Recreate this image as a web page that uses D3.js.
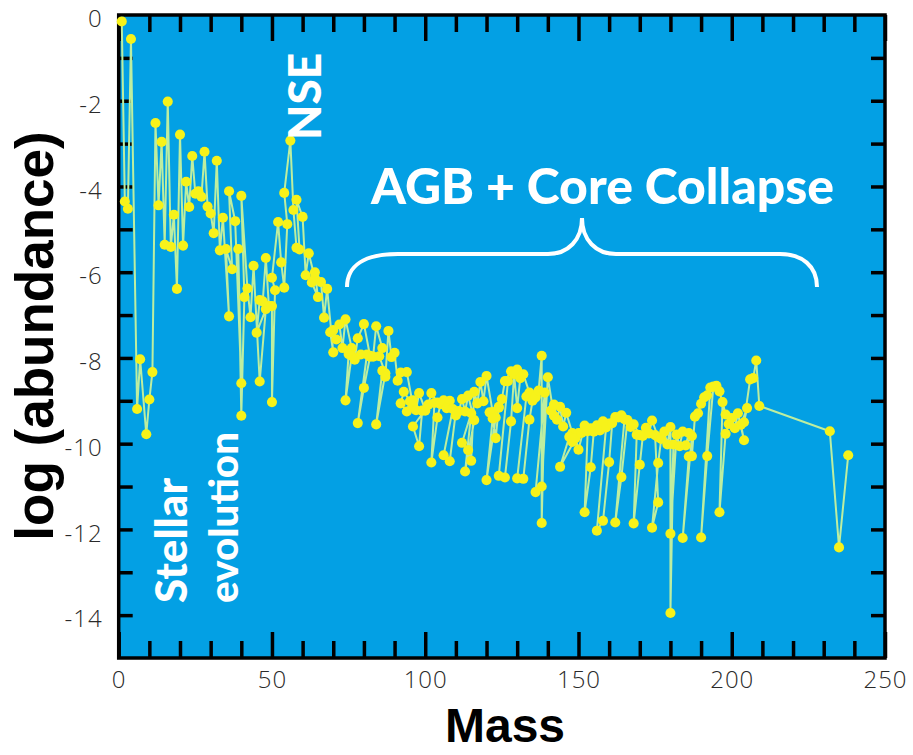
<!DOCTYPE html>
<html>
<head>
<meta charset="utf-8">
<script src="https://cdn.jsdelivr.net/npm/d3@7"></script>
<style>
  html, body { margin: 0; padding: 0; background: #ffffff; }
  svg { display: block; }
</style>
</head>
<body>
<svg id="chart" width="913" height="755"></svg>
<script>
// ---- data: isotopes in order of element, then mass number ----
const mass = [
  1,2,3,4,6,7,9,10,11,12,13,14,15,16,17,18,19,20,21,22,23,24,25,26,27,28,29,30,31,
  32,33,34,36,35,37,36,38,40,39,40,41,40,42,43,44,46,48,45,46,47,48,49,50,50,51,
  50,52,53,54,55,54,56,57,58,59,58,60,61,62,64,63,65,64,66,67,68,70,69,71,
  70,72,73,74,76,75,74,76,77,78,80,82,79,81,78,80,82,83,84,86,85,87,84,86,87,88,
  89,90,91,92,94,96,93,92,94,95,96,97,98,100,96,98,99,100,101,102,104,103,
  102,104,105,106,108,110,107,109,106,108,110,111,112,113,114,116,113,115,
  112,114,115,116,117,118,119,120,122,124,121,123,120,122,123,124,125,126,128,130,
  127,124,126,128,129,130,131,132,134,136,133,130,132,134,135,136,137,138,
  138,139,136,138,140,142,141,142,143,144,145,146,148,150,144,147,148,149,150,152,154,
  151,153,152,154,155,156,157,158,160,159,156,158,160,161,162,163,164,165,
  162,164,166,167,168,170,169,168,170,171,172,173,174,176,175,176,174,176,177,178,179,180,
  180,181,180,182,183,184,186,185,187,184,186,187,188,189,190,192,191,193,
  190,192,194,195,196,198,197,196,198,199,200,201,202,204,203,205,204,206,207,208,
  209,232,235,238
];
const logAbundance = [
  -0.15,-4.35,-4.52,-0.56,-9.19,-8.03,-9.78,-8.97,-8.33,-2.52,-4.44,-2.96,-5.36,-2.02,-5.41,-4.66,-6.39,-2.79,-5.38,-3.89,-4.48,-3.29,-4.17,-4.11,-4.24,-3.19,-4.47,-4.63,-5.09,
  -3.40,-5.49,-4.73,-7.03,-5.46,-5.93,-4.11,-4.81,-8.59,-5.46,-9.35,-6.58,-4.22,-6.38,-7.05,-5.85,-8.55,-6.86,-7.41,-6.65,-6.68,-5.67,-6.79,-6.79,-9.03,-6.42,
  -6.13,-4.83,-5.77,-6.36,-4.88,-4.15,-2.93,-4.55,-5.43,-5.47,-4.31,-4.71,-6.07,-5.56,-6.14,-6.24,-6.58,-6.00,-6.23,-7.06,-6.39,-7.87,-7.40,-7.57,
  -7.35,-7.22,-7.77,-7.10,-7.77,-7.91,-8.99,-7.95,-8.04,-7.54,-7.21,-7.95,-7.92,-7.92,-9.52,-8.70,-7.97,-7.97,-7.26,-7.77,-7.96,-8.36,-9.55,-8.30,-8.44,-7.37,
  -7.98,-7.88,-8.53,-8.34,-8.33,-9.11,-8.79,-9.06,-9.25,-9.01,-8.99,-9.22,-8.82,-9.21,-9.60,-10.06,-9.23,-9.23,-9.09,-8.82,-9.04,-9.05,
  -10.44,-9.39,-9.08,-8.99,-9.00,-9.34,-9.17,-9.19,-10.27,-10.41,-9.25,-9.24,-8.96,-9.25,-8.88,-9.45,-10.65,-9.29,
  -9.98,-10.15,-10.40,-8.79,-9.06,-8.56,-9.01,-8.42,-9.26,-9.16,-9.27,-9.39,-10.85,-9.41,-9.87,-9.14,-8.96,-8.54,-8.31,-8.27,
  -8.54,-10.75,-10.79,-9.48,-8.38,-9.17,-8.47,-8.38,-8.81,-8.89,-8.90,-10.81,-10.82,-9.44,-9.00,-8.92,-8.76,-7.95,
  -11.85,-8.81,-11.13,-11.00,-8.45,-9.35,-9.23,-9.09,-9.44,-9.14,-9.60,-9.28,-9.75,-9.75,-10.54,-9.84,-9.96,-9.87,-10.14,-9.58,-9.64,
  -9.75,-9.71,-11.60,-10.55,-9.72,-9.57,-9.69,-9.48,-9.53,-9.62,-12.03,-11.80,-10.43,-9.52,-9.38,-9.39,-9.34,-9.43,
  -11.84,-10.78,-9.45,-9.61,-9.55,-9.80,-9.79,-11.86,-10.49,-9.82,-9.63,-9.76,-9.46,-9.85,-9.80,-11.37,-11.96,-10.45,-9.89,-9.72,-10.02,-9.61,
  -13.95,-10.02,-12.10,-9.79,-10.06,-9.72,-9.75,-10.04,-9.82,-12.20,-10.30,-10.29,-9.37,-9.29,-9.07,-8.87,-8.92,-8.69,
  -12.19,-10.29,-8.67,-8.65,-8.78,-9.32,-9.03,-11.60,-9.77,-9.54,-9.40,-9.64,-9.29,-9.92,-9.56,-9.17,-9.50,-8.50,-8.47,-8.06,
  -9.12,-9.71,-12.42,-10.27
];
const xMajorTicks = [0, 50, 100, 150, 200, 250];
const xMinorTicks = [10,20,30,40,60,70,80,90,110,120,130,140,160,170,180,190,210,220,230,240];
const yLabelTicks = [0, -2, -4, -6, -8, -10, -12, -14];
const yAllTicks = [-1,-2,-3,-4,-5,-6,-7,-8,-9,-10,-11,-12,-13,-14];
const xTitle = "Mass";
const yTitle = "log (abundance)";
const annotations = ["NSE", "Stellar", "evolution", "AGB + Core Collapse"];

// ---- layout ----
const svg = d3.select("#chart");
const L = 118.7, R = 885, T = 15, B = 658;
const x = d3.scaleLinear().domain([0, 250]).range([L, R]);
const y = d3.scaleLinear().domain([0, -15]).range([T, B]);

svg.append("rect").attr("x", L).attr("y", T).attr("width", R - L).attr("height", B - T)
  .attr("fill", "#03a0e4");

const tickFont = "'Open Sans', 'DejaVu Sans', sans-serif";
function styleAxis(g, withText) {
  g.select(".domain").remove();
  g.selectAll(".tick line").attr("stroke", "#000").attr("stroke-width", 3.5);
  if (withText) {
    g.selectAll(".tick text").attr("font-family", tickFont).attr("font-weight", 300)
      .attr("font-size", 24).attr("fill", "#2a2a2a").attr("letter-spacing", 1);
  } else {
    g.selectAll(".tick text").remove();
  }
}

// bottom
svg.append("g").attr("transform", `translate(0,${B})`)
  .call(d3.axisBottom(x).tickValues(xMinorTicks).tickSize(-17)).call(g => styleAxis(g, false));
svg.append("g").attr("transform", `translate(0,${B})`)
  .call(d3.axisBottom(x).tickValues(xMajorTicks).tickSize(-26).tickPadding(13).tickFormat(d3.format("d")))
  .call(g => styleAxis(g, true));
// top
svg.append("g").attr("transform", `translate(0,${T})`)
  .call(d3.axisTop(x).tickValues(xMinorTicks).tickSize(-17)).call(g => styleAxis(g, false));
svg.append("g").attr("transform", `translate(0,${T})`)
  .call(d3.axisTop(x).tickValues(xMajorTicks).tickSize(-26)).call(g => styleAxis(g, false));
// left
svg.append("g").attr("transform", `translate(${L},0)`)
  .call(d3.axisLeft(y).tickValues(yAllTicks).tickSize(-14)).call(g => styleAxis(g, false));
svg.append("g").attr("transform", `translate(${L},4)`)
  .call(d3.axisLeft(y).tickValues(yLabelTicks).tickSize(0).tickPadding(16).tickFormat(d => d3.format("d")(d).replace("−", "-")))
  .call(g => styleAxis(g, true));
// right
svg.append("g").attr("transform", `translate(${R},0)`)
  .call(d3.axisRight(y).tickValues(yAllTicks).tickSize(-14)).call(g => styleAxis(g, false));

// frame
svg.append("rect").attr("x", L).attr("y", T).attr("width", R - L).attr("height", B - T)
  .attr("fill", "none").attr("stroke", "#000").attr("stroke-width", 3.5);

// ---- data line + markers ----
const pts = mass.map((m, i) => [m, logAbundance[i]]);
svg.append("path").datum(pts)
  .attr("fill", "none").attr("stroke", "#bdeea0").attr("stroke-width", 2)
  .attr("stroke-linejoin", "round")
  .attr("d", d3.line().x(d => x(d[0])).y(d => y(d[1])));
svg.append("g").selectAll("path").data(pts).join("path")
  .attr("transform", d => `translate(${x(d[0])},${y(d[1])})`)
  .attr("d", d3.symbol().type(d3.symbolCircle).size(80))
  .attr("fill", "#f7f21a");

// ---- annotations (font size fitted to the target length) ----
const annFont = "Lato, 'Noto Sans', sans-serif";
function fitText(sel, target) {
  const n = sel.node();
  const w = n.getComputedTextLength();
  const fs = parseFloat(sel.attr("font-size"));
  if (w > 0) sel.attr("font-size", (fs * target / w).toFixed(1));
  return sel;
}
fitText(svg.append("text").attr("transform", "translate(321,140) rotate(-90)")
  .attr("font-family", annFont).attr("font-weight", 900).attr("font-size", 60)
  .attr("fill", "#fff").text(annotations[0]), 87);
fitText(svg.append("text").attr("transform", "translate(187,603) rotate(-90)")
  .attr("font-family", annFont).attr("font-weight", 900).attr("font-size", 44)
  .attr("fill", "#fff").text(annotations[1]), 125);
fitText(svg.append("text").attr("transform", "translate(238,603) rotate(-90)")
  .attr("font-family", annFont).attr("font-weight", 900).attr("font-size", 44)
  .attr("fill", "#fff").text(annotations[2]), 171);
fitText(svg.append("text").attr("x", 371).attr("y", 204)
  .attr("font-family", annFont).attr("font-weight", 900).attr("font-size", 60)
  .attr("fill", "#fff").text(annotations[3]), 463);
svg.append("path")
  .attr("d", "M347,287 C347,266 364,254 398,254 L548,254 C568,254 582,240 582,218 C582,240 596,254 616,254 L780,254 C802,254 817,266 817,287")
  .attr("fill", "none").attr("stroke", "#fff").attr("stroke-width", 4);

// ---- axis titles ----
svg.append("text").attr("x", 505).attr("y", 742).attr("text-anchor", "middle")
  .attr("font-family", "'Liberation Sans', Arial, sans-serif").attr("font-weight", 700)
  .attr("font-size", 48).attr("fill", "#000")
  .text(xTitle);
svg.append("text").attr("transform", "translate(53,336) rotate(-90)").attr("text-anchor", "middle")
  .attr("font-family", "'Liberation Sans', Arial, sans-serif").attr("font-weight", 700)
  .attr("font-size", 53).attr("fill", "#000")
  .text(yTitle);
</script>
</body>
</html>
